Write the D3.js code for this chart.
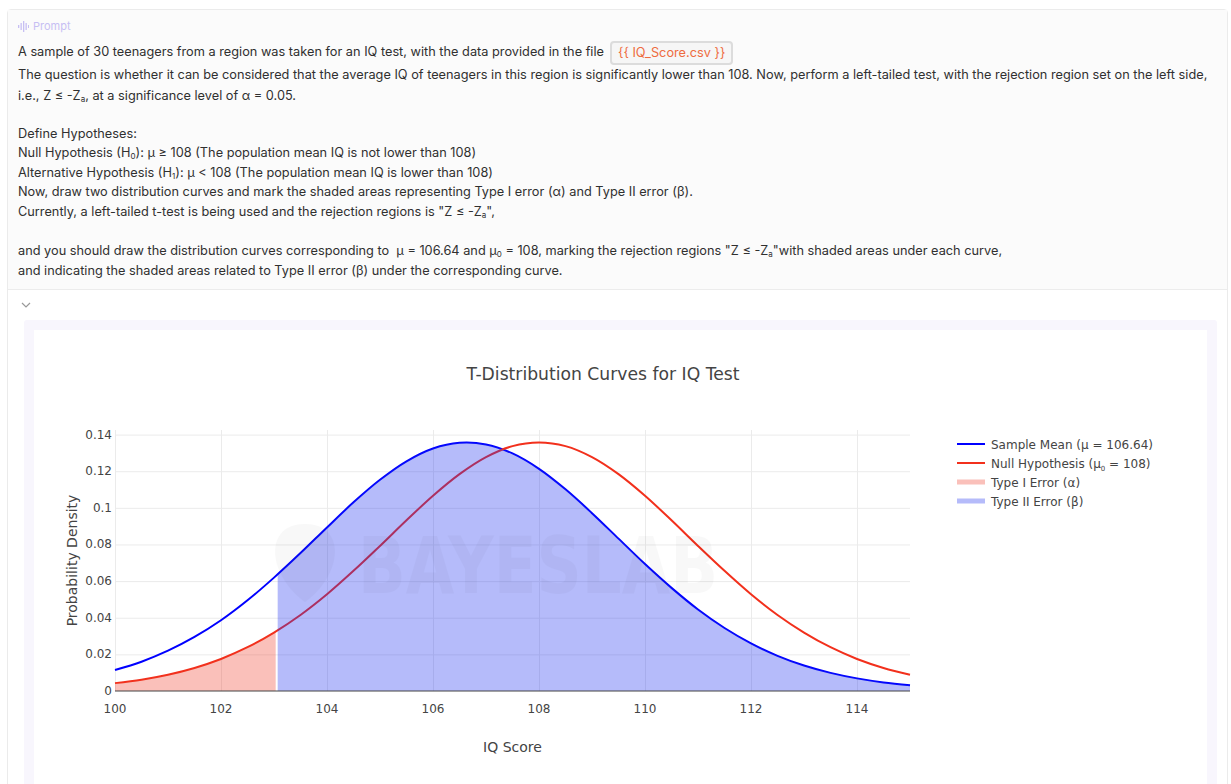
<!DOCTYPE html>
<html lang="en">
<head>
<meta charset="UTF-8">
<title>T-Distribution Curves for IQ Test</title>
<script src="https://d3js.org/d3.v7.min.js"></script>
<style>
  body { margin: 0; width: 1231px; height: 784px; overflow: hidden; position: relative; background: #fff;
         font-family: Inter, "Noto Sans", sans-serif; }
  .card { position: absolute; left: 7px; top: 9px; width: 1219px; height: 800px; border: 1px solid #ebebeb; border-radius: 4px; background: #fff; }
  .prompt-bg { position: absolute; left: 8px; top: 10px; width: 1219px; height: 279px; background: #fbfbfb; border-bottom: 1px solid #ececec; }
  .tag { position: absolute; left: 18px; top: 19px; font-size: 11px; color: #c7bff3; display: flex; align-items: center; gap: 4px; }
  .ln { position: absolute; left: 18px; font-size: 12.75px; line-height: 16px; color: #303030; white-space: nowrap; }
  .ln sub { font-size: 8px; vertical-align: -2px; line-height: 0; }
  .chip { display: inline-block; margin-left: 6px; padding: 0 6px; height: 20px; border: 2px solid #dcdcdc; border-radius: 4px;
          background: #f6f6f6; color: #ee6b40; line-height: 20px; vertical-align: middle; }
  .frame { position: absolute; left: 24px; top: 320px; width: 1193px; height: 480px; background: #f8f6fd; border-radius: 3px; }
  .inner { position: absolute; left: 34px; top: 330px; width: 1173px; height: 470px; background: #fff; }
  svg.chart { position: absolute; left: 0; top: 0; }
</style>
</head>
<body>
<div class="card"></div>
<div class="prompt-bg"></div>
<div class="tag">
  <svg width="11" height="11"><g fill="#c7bff3"><rect x="0" y="4" width="1.3" height="3"/><rect x="2.5" y="2" width="1.3" height="7"/><rect x="5" y="0" width="1.3" height="11"/><rect x="7.5" y="2" width="1.3" height="7"/><rect x="10" y="4" width="1" height="3"/></g></svg>
  <span>Prompt</span>
</div>
<div class="ln" style="top:40px;line-height:24px">A sample of 30 teenagers from a region was taken for an IQ test, with the data provided in the file<span class="chip">{{ IQ_Score.csv }}</span></div>
<div class="ln" style="top:67px">The question is whether it can be considered that the average IQ of teenagers in this region is significantly lower than 108. Now, perform a left-tailed test, with the rejection region set on the left side,</div>
<div class="ln" style="top:88px">i.e., Z ≤ -Z<sub>a</sub>, at a significance level of α = 0.05.</div>
<div class="ln" style="top:126px">Define Hypotheses:</div>
<div class="ln" style="top:145px">Null Hypothesis (H<sub>0</sub>): μ ≥ 108 (The population mean IQ is not lower than 108)</div>
<div class="ln" style="top:165px">Alternative Hypothesis (H<sub>1</sub>): μ &lt; 108 (The population mean IQ is lower than 108)</div>
<div class="ln" style="top:184px">Now, draw two distribution curves and mark the shaded areas representing Type I error (α) and Type II error (β).</div>
<div class="ln" style="top:204px">Currently, a left-tailed t-test is being used and the rejection regions is "Z ≤ -Z<sub>a</sub>",</div>
<div class="ln" style="top:243px">and you should draw the distribution curves corresponding to &nbsp;μ = 106.64 and μ<sub>0</sub> = 108, marking the rejection regions "Z ≤ -Z<sub>a</sub>"with shaded areas under each curve,</div>
<div class="ln" style="top:263px">and indicating the shaded areas related to Type II error (β) under the corresponding curve.</div>
<svg style="position:absolute;left:21px;top:302px" width="10" height="7"><polyline points="1,1 5,5 9,1" fill="none" stroke="#999" stroke-width="1.2"/></svg>
<div class="frame"></div>
<div class="inner"></div>

<script>
  // IQ score grid (x) and the two density curves
  const iqScores = [100, 100.5, 101, 101.5, 102, 102.5, 103, 103.5, 104, 104.5, 105, 105.5, 106, 106.5, 107, 107.5,
                    108, 108.5, 109, 109.5, 110, 110.5, 111, 111.5, 112, 112.5, 113, 113.5, 114, 114.5, 115];
  const sampleDensity = [0.0115, 0.0160, 0.0220, 0.0295, 0.0386, 0.0495, 0.0619, 0.0753, 0.0893, 0.1030, 0.1153, 0.1254,
                         0.1324, 0.1355, 0.1346, 0.1297, 0.1213, 0.1101, 0.0971, 0.0832, 0.0693, 0.0563, 0.0445, 0.0344,
                         0.0260, 0.0192, 0.0139, 0.0099, 0.0069, 0.0047, 0.0032];
  const nullDensity = [0.0043, 0.0062, 0.0089, 0.0126, 0.0175, 0.0239, 0.0319, 0.0415, 0.0528, 0.0656, 0.0792, 0.0932,
                       0.1066, 0.1184, 0.1277, 0.1337, 0.1357, 0.1337, 0.1277, 0.1184, 0.1066, 0.0932, 0.0792, 0.0656,
                       0.0528, 0.0415, 0.0319, 0.0239, 0.0175, 0.0126, 0.0089];
  const criticalIQ = 103.06;   // left-tail rejection boundary
  const xTicks = [100, 102, 104, 106, 108, 110, 112, 114];
  const yTicks = [0, 0.02, 0.04, 0.06, 0.08, 0.1, 0.12, 0.14];
  const legendLabels = ["Sample Mean (μ = 106.64)", "Null Hypothesis (μ₀ = 108)", "Type I Error (α)", "Type II Error (β)"];

  const sample = iqScores.map((x, i) => ({ x, y: sampleDensity[i] }));
  const nul = iqScores.map((x, i) => ({ x, y: nullDensity[i] }));

  const W = 1231, H = 784;
  const plot = { left: 115, right: 910, top: 430, bottom: 691 };
  const font = "'DejaVu Sans', Verdana, sans-serif";

  const svg = d3.select("body").append("svg").attr("class", "chart")
    .attr("width", W).attr("height", H);

  const x = d3.scaleLinear().domain([100, 115]).range([plot.left, plot.right]);
  const y = d3.scaleLinear().domain([0, 0.1425]).range([plot.bottom, plot.top]);

  const defs = svg.append("defs");
  defs.append("clipPath").attr("id", "clipA").append("rect")
    .attr("x", x(100)).attr("y", plot.top - 5)
    .attr("width", x(criticalIQ) - x(100) - 1.5).attr("height", plot.bottom - plot.top + 5);
  defs.append("clipPath").attr("id", "clipB").append("rect")
    .attr("x", x(criticalIQ) + 0.5).attr("y", plot.top - 5)
    .attr("width", x(115) - x(criticalIQ) - 0.5).attr("height", plot.bottom - plot.top + 5);

  // grid
  svg.append("g").call(d3.axisBottom(x).tickValues(xTicks).tickSize(-(plot.bottom - plot.top)).tickFormat(""))
    .attr("transform", `translate(0,${plot.bottom})`)
    .call(g => g.select(".domain").remove())
    .call(g => g.selectAll("line").attr("stroke", "#ebebeb"));
  svg.append("g").call(d3.axisLeft(y).tickValues(yTicks.slice(1)).tickSize(-(plot.right - plot.left)).tickFormat(""))
    .attr("transform", `translate(${plot.left},0)`)
    .call(g => g.select(".domain").remove())
    .call(g => g.selectAll("line").attr("stroke", "#ebebeb"));

  const line = d3.line().x(d => x(d.x)).y(d => y(d.y)).curve(d3.curveCatmullRom.alpha(0.5));
  const area = d3.area().x(d => x(d.x)).y0(y(0)).y1(d => y(d.y)).curve(d3.curveCatmullRom.alpha(0.5));

  svg.append("path").datum(sample).attr("d", line).attr("fill", "none").attr("stroke", "#0000ff").attr("stroke-width", 2);
  svg.append("path").datum(nul).attr("d", line).attr("fill", "none").attr("stroke", "#f2301c").attr("stroke-width", 2);
  svg.append("path").datum(nul).attr("d", area).attr("clip-path", "url(#clipA)").attr("fill", "rgba(240,60,40,0.32)");
  svg.append("path").datum(sample).attr("d", area).attr("clip-path", "url(#clipB)").attr("fill", "rgba(30,50,240,0.33)");

  // faint watermark
  const wm = svg.append("g").attr("opacity", 0.025).attr("fill", "#000");
  wm.append("path").attr("d", "M305,524 C282,524 272,540 276,560 C280,580 296,596 305,602 C314,596 330,580 334,560 C338,540 328,524 305,524 Z");
  wm.append("text").attr("x", 358).attr("y", 593).attr("textLength", 360).attr("lengthAdjust", "spacingAndGlyphs")
    .attr("font-family", font).attr("font-weight", "bold").attr("font-size", 78).text("BAYESLAB");

  // zero line
  svg.append("line").attr("x1", plot.left).attr("x2", plot.right).attr("y1", y(0)).attr("y2", y(0))
    .attr("stroke", "#444").attr("stroke-width", 1);

  // tick labels
  svg.append("g").selectAll("text").data(xTicks).join("text")
    .attr("x", d => x(d)).attr("y", plot.bottom + 22).attr("text-anchor", "middle")
    .attr("font-family", font).attr("font-size", 12).attr("fill", "#444").text(d => d);
  svg.append("g").selectAll("text").data(yTicks).join("text")
    .attr("x", plot.left - 3).attr("y", d => y(d) + 4).attr("text-anchor", "end")
    .attr("font-family", font).attr("font-size", 12).attr("fill", "#444").text(d => d3.format("~g")(d));

  // titles
  svg.append("text").attr("x", 603).attr("y", 380).attr("text-anchor", "middle")
    .attr("font-family", font).attr("font-size", 17.2).attr("fill", "#444").text("T-Distribution Curves for IQ Test");
  svg.append("text").attr("x", (plot.left + plot.right) / 2).attr("y", 752).attr("text-anchor", "middle")
    .attr("font-family", font).attr("font-size", 14).attr("fill", "#444").text("IQ Score");
  svg.append("text").attr("transform", `translate(77,${(plot.top + plot.bottom) / 2}) rotate(-90)`).attr("text-anchor", "middle")
    .attr("font-family", font).attr("font-size", 14).attr("fill", "#444").text("Probability Density");

  // legend
  const legendStyles = [
    { color: "#0000ff", width: 2 },
    { color: "#f2301c", width: 2 },
    { color: "rgba(240,60,40,0.32)", width: 5 },
    { color: "rgba(30,50,240,0.33)", width: 5 }
  ];
  const lg = svg.append("g").selectAll("g").data(legendLabels).join("g")
    .attr("transform", (d, i) => `translate(957,${444 + i * 19})`);
  lg.append("line").attr("x1", 0).attr("x2", 28).attr("y1", 0).attr("y2", 0)
    .attr("stroke", (d, i) => legendStyles[i].color).attr("stroke-width", (d, i) => legendStyles[i].width);
  lg.append("text").attr("x", 34).attr("y", 4.5).attr("font-family", font).attr("font-size", 12).attr("fill", "#444")
    .each(function (d) {
      const t = d3.select(this);
      if (d.includes("₀")) {
        const [a, b] = d.split("₀");
        t.append("tspan").text(a);
        t.append("tspan").attr("font-size", 7).attr("dy", 3).text("0");
        t.append("tspan").attr("dy", -3).text(b);
      } else {
        t.text(d);
      }
    });
</script>
</body>
</html>
